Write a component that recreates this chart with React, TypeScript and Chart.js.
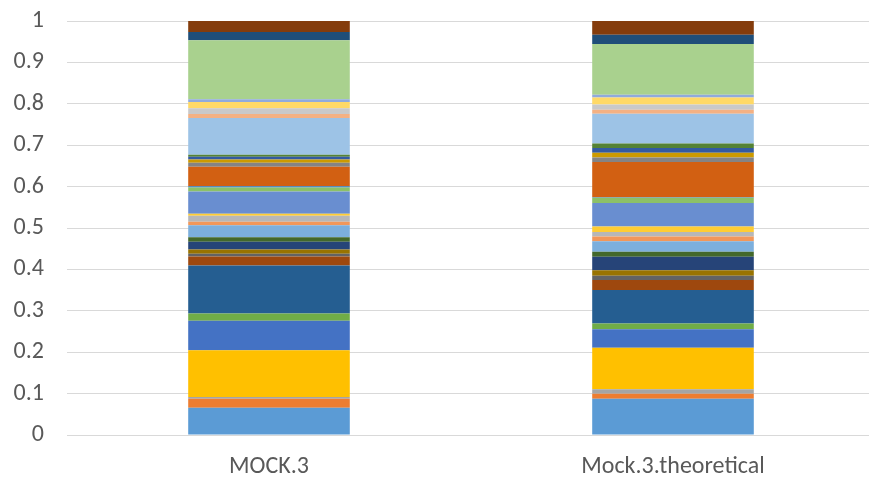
import React, { useEffect, useRef } from "react";
import { Chart, registerables } from "chart.js";

Chart.register(...registerables);

// Sample composition per column (each column sums to ~1)
const categories = ["MOCK.3", "Mock.3.theoretical"];

const mock3Values = [
  0.066, 0.0217, 0.004, 0.113, 0.071, 0.0177, 0.116, 0.0217,
  0.007, 0.0097, 0.019, 0.011, 0.029, 0.008, 0.0145, 0.005,
  0.054, 0.0097, 0.003, 0.0467, 0.0097, 0.008, 0.0065, 0.005,
  0.089, 0.0097, 0.0137, 0.015, 0.0065, 0.1425, 0.02, 0.0267,
];

const theoreticalValues = [
  0.0877, 0.012, 0.011, 0.0998, 0.045, 0.0137, 0.081, 0.024,
  0.0105, 0.013, 0.033, 0.012, 0.025, 0.012, 0.0105, 0.0137,
  0.0563, 0.013, 0.001, 0.0853, 0.011, 0.011, 0.012, 0.0105,
  0.0717, 0.0097, 0.013, 0.017, 0.0065, 0.1225, 0.0225, 0.0331,
];

const seriesColors = [
  "#5B9BD5", "#ED7D31", "#A5A5A5", "#FFC000", "#4472C4", "#70AD47", "#255E91", "#9E480E",
  "#636363", "#997300", "#264478", "#43682B", "#7CAFDD", "#F1975A", "#B7B7B7", "#FFCD33",
  "#698ED0", "#8CC168", "#327DC2", "#D26012", "#848484", "#CC9A00", "#335AA1", "#548235",
  "#9DC3E6", "#F4B183", "#C9C9C9", "#FFD966", "#8FAADC", "#A9D18E", "#1F4E79", "#843C0C",
];

const yTicks = [0, 0.1, 0.2, 0.3, 0.4, 0.5, 0.6, 0.7, 0.8, 0.9, 1];

const FONT = "Carlito, Calibri, 'Open Sans', 'Liberation Sans', sans-serif";
const FONT_SIZE = 24;

export default function App() {
  const canvasRef = useRef<HTMLCanvasElement | null>(null);

  useEffect(() => {
    const canvas = canvasRef.current;
    if (!canvas) return;

    const datasets = seriesColors.map((color, i) => ({
      label: `Series ${i + 1}`,
      data: [mock3Values[i], theoreticalValues[i]],
      backgroundColor: color,
      borderWidth: 0,
      barPercentage: 0.4,
      categoryPercentage: 1,
    }));

    const chart = new Chart(canvas, {
      type: "bar",
      data: { labels: categories, datasets },
      options: {
        responsive: false,
        animation: false,
        devicePixelRatio: 1,
        layout: { padding: { top: 21, right: 0, bottom: 0, left: 0 } },
        plugins: {
          legend: { display: false },
          tooltip: { enabled: false },
        },
        scales: {
          x: {
            stacked: true,
            grid: { display: false, drawTicks: false },
            border: { display: false },
            ticks: {
              color: "#595959",
              font: { family: FONT, size: FONT_SIZE },
              padding: 18,
            },
            afterFit: (scale: any) => {
              scale.height = 43;
              scale.paddingLeft = 0;
              scale.paddingRight = 0;
            },
          },
          y: {
            stacked: true,
            min: 0,
            max: 1,
            afterBuildTicks: (scale: any) => {
              scale.ticks = yTicks.map((v) => ({ value: v }));
            },
            grid: { color: "#D9D9D9", lineWidth: 1, drawTicks: false },
            border: { display: false },
            ticks: {
              color: "#595959",
              font: { family: FONT, size: FONT_SIZE },
              padding: 23,
              callback: (v: any) => String(Math.round(Number(v) * 10) / 10),
            },
            afterFit: (scale: any) => {
              scale.width = 67;
              scale.paddingTop = 0;
              scale.paddingBottom = 0;
            },
          },
        },
      },
    });

    return () => chart.destroy();
  }, []);

  return (
    <div
      style={{
        position: "fixed",
        left: 0,
        top: 0,
        width: 869,
        height: 478,
        overflow: "hidden",
        background: "#fff",
      }}
    >
      <canvas ref={canvasRef} width={875} height={478} style={{ display: "block" }} />
    </div>
  );
}
